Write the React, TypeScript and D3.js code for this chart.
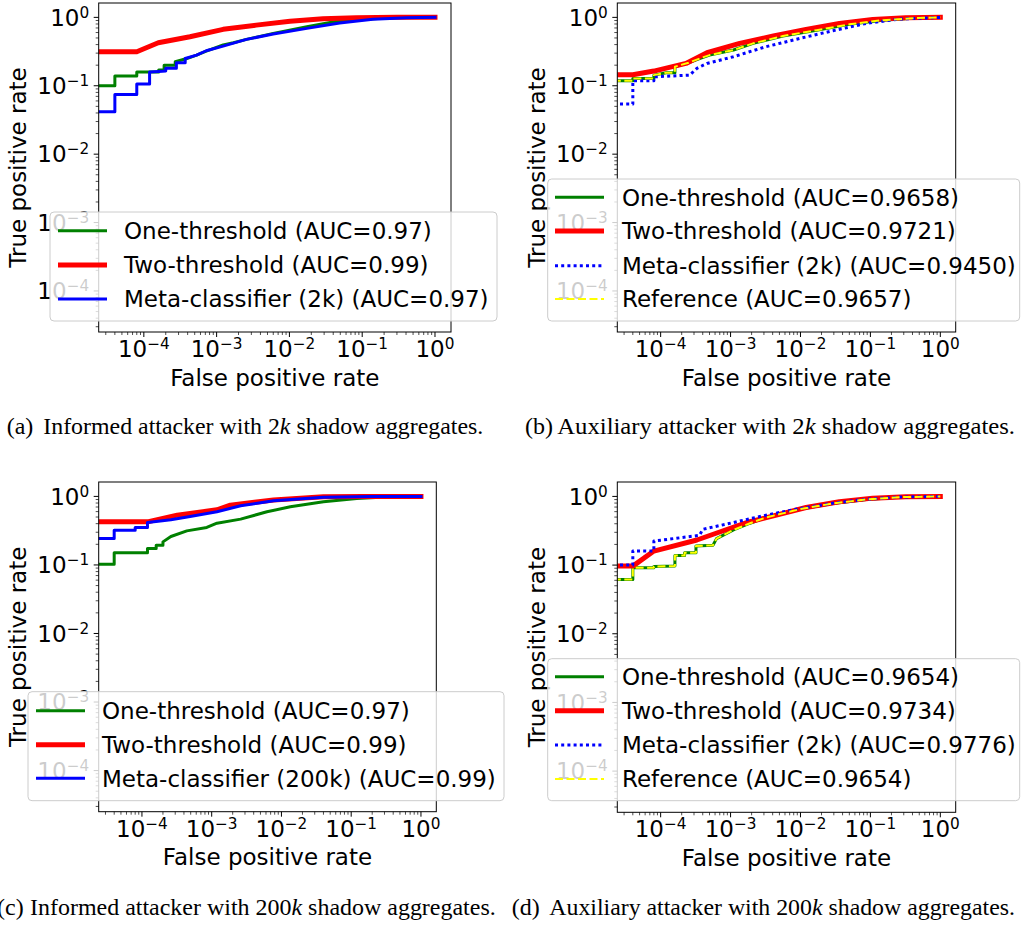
import React from 'react';
import * as d3 from 'd3';

// ---------- DATA ----------
const X_TICK_EXPONENTS = [-4, -3, -2, -1, 0];
const Y_TICK_EXPONENTS = [-4, -3, -2, -1, 0];
const X_LABEL = 'False positive rate';
const Y_LABEL = 'True positive rate';

const CAPTION_TAGS = ['(a)', '(b)', '(c)', '(d)'];
const CAPTION_PREFIX = ['Informed attacker with ', 'Auxiliary attacker with ', 'Informed attacker with ', 'Auxiliary attacker with '];
const CAPTION_NUM = ['2', '2', '200', '200'];
const CAPTION_SUFFIX = ' shadow aggregates.';

// Panel (a)
const A_LABELS = ['One-threshold (AUC=0.97)', 'Two-threshold (AUC=0.99)', 'Meta-classifier (2k) (AUC=0.97)'];
const A_ONE_FPR = [1e-6, 4e-5, 4e-5, 8e-5, 8e-5, 1.6e-4, 1.6e-4, 1.9e-4, 1.9e-4, 2.7e-4, 2.7e-4, 3.9e-4, 5.3e-4, 7.2e-4, 1.23e-3, 1.7e-3, 2.57e-3, 6e-3, 1.74e-2, 4.9e-2, 0.24, 1];
const A_ONE_TPR = [0.1, 0.1, 0.139, 0.139, 0.159, 0.159, 0.17, 0.17, 0.2, 0.2, 0.224, 0.25, 0.281, 0.32, 0.394, 0.425, 0.477, 0.583, 0.73, 0.89, 0.99, 1];
const A_TWO_FPR = [1e-6, 8e-5, 1.58e-4, 4.3e-4, 1.23e-3, 3.5e-3, 1.02e-2, 2.9e-2, 8.3e-2, 0.3, 1];
const A_TWO_TPR = [0.314, 0.314, 0.425, 0.52, 0.668, 0.77, 0.88, 0.955, 0.99, 1, 1];
const A_META_FPR = [1e-6, 4e-5, 4e-5, 8e-5, 8e-5, 1.2e-4, 1.2e-4, 1.6e-4, 2e-4, 2e-4, 2.8e-4, 2.8e-4, 3.7e-4, 3.7e-4, 5.3e-4, 7.2e-4, 1.23e-3, 2.57e-3, 6e-3, 1.74e-2, 4.9e-2, 0.14, 0.41, 1];
const A_META_TPR = [0.0417, 0.0417, 0.0748, 0.0748, 0.106, 0.106, 0.159, 0.162, 0.165, 0.18, 0.18, 0.217, 0.217, 0.25, 0.281, 0.325, 0.38, 0.477, 0.57, 0.69, 0.83, 0.94, 0.99, 1];

// Panel (b)
const B_LABELS = ['One-threshold (AUC=0.9658)', 'Two-threshold (AUC=0.9721)', 'Meta-classifier (2k) (AUC=0.9450)', 'Reference (AUC=0.9657)'];
const B_ONE_FPR = [1e-6, 4e-5, 4e-5, 8e-5, 8e-5, 1.2e-4, 1.6e-4, 1.6e-4, 2.5e-4, 3.6e-4, 5e-4, 1.1e-3, 2.1e-3, 5.6e-3, 1.7e-2, 5e-2, 0.15, 0.45, 1];
const B_ONE_TPR = [0.118, 0.118, 0.128, 0.128, 0.143, 0.155, 0.155, 0.19, 0.217, 0.25, 0.281, 0.333, 0.417, 0.533, 0.65, 0.79, 0.91, 0.98, 1];
const B_TWO_FPR = [1e-6, 4e-5, 8e-5, 2.3e-4, 4.6e-4, 1.35e-3, 4.1e-3, 1.2e-2, 3.6e-2, 0.108, 0.32, 1];
const B_TWO_TPR = [0.145, 0.145, 0.164, 0.212, 0.304, 0.417, 0.533, 0.668, 0.817, 0.934, 0.99, 1];
const B_META_FPR = [1e-6, 4e-5, 4e-5, 8e-5, 8e-5, 2.6e-4, 3.3e-4, 4.6e-4, 1.1e-3, 3.2e-3, 9.8e-3, 2.9e-2, 8.7e-2, 0.26, 0.78, 1];
const B_META_TPR = [0.054, 0.054, 0.118, 0.118, 0.135, 0.143, 0.18, 0.212, 0.266, 0.372, 0.493, 0.637, 0.817, 0.944, 0.99, 1];
const B_REF_FPR = [1e-6, 4e-5, 4e-5, 8e-5, 8e-5, 1.2e-4, 1.6e-4, 1.6e-4, 2.5e-4, 3.6e-4, 5e-4, 1.1e-3, 2.1e-3, 5.6e-3, 1.7e-2, 5e-2, 0.15, 0.45, 1];
const B_REF_TPR = [0.118, 0.118, 0.128, 0.128, 0.143, 0.155, 0.155, 0.19, 0.217, 0.25, 0.281, 0.333, 0.417, 0.533, 0.65, 0.79, 0.91, 0.98, 1];

// Panel (c)
const C_LABELS = ['One-threshold (AUC=0.97)', 'Two-threshold (AUC=0.99)', 'Meta-classifier (200k) (AUC=0.99)'];
const C_ONE_FPR = [1e-6, 4e-5, 4e-5, 1.2e-4, 1.2e-4, 1.6e-4, 1.6e-4, 2e-4, 2e-4, 2.6e-4, 4.4e-4, 8.5e-4, 1.19e-3, 2.6e-3, 6.2e-3, 1.34e-2, 4e-2, 0.12, 0.36, 1];
const C_ONE_TPR = [0.102, 0.102, 0.151, 0.151, 0.173, 0.173, 0.194, 0.194, 0.217, 0.26, 0.314, 0.352, 0.407, 0.466, 0.596, 0.705, 0.834, 0.935, 0.99, 1];
const C_TWO_FPR = [1e-6, 1.2e-4, 3.2e-4, 1.19e-3, 1.85e-3, 7.7e-3, 4e-2, 0.15, 1];
const C_TWO_TPR = [0.425, 0.425, 0.532, 0.637, 0.746, 0.883, 0.99, 1, 1];
const C_META_FPR = [1e-6, 4e-5, 4e-5, 8e-5, 8e-5, 1.2e-4, 1.2e-4, 2.6e-4, 4.9e-4, 1.19e-3, 2.6e-3, 7.7e-3, 4e-2, 0.2, 1];
const C_META_TPR = [0.243, 0.243, 0.321, 0.321, 0.352, 0.352, 0.417, 0.455, 0.51, 0.596, 0.73, 0.863, 0.97, 1, 1];

// Panel (d)
const D_LABELS = ['One-threshold (AUC=0.9654)', 'Two-threshold (AUC=0.9734)', 'Meta-classifier (2k) (AUC=0.9776)', 'Reference (AUC=0.9654)'];
const D_ONE_FPR = [1e-6, 4e-5, 4e-5, 8e-5, 8e-5, 1.6e-4, 1.6e-4, 2.2e-4, 2.2e-4, 3.2e-4, 3.2e-4, 5.6e-4, 6.3e-4, 1.1e-3, 1.9e-3, 3.2e-3, 9.8e-3, 2.9e-2, 8.7e-2, 0.26, 1];
const D_ONE_TPR = [0.0617, 0.0617, 0.0913, 0.0913, 0.095, 0.0966, 0.138, 0.138, 0.151, 0.151, 0.19, 0.195, 0.243, 0.325, 0.407, 0.493, 0.652, 0.79, 0.904, 0.976, 1];
const D_TWO_FPR = [1e-6, 4e-5, 8e-5, 3.3e-4, 1.7e-3, 4.1e-3, 1.2e-2, 3.6e-2, 0.108, 0.32, 1];
const D_TWO_TPR = [0.0966, 0.0966, 0.16, 0.232, 0.417, 0.52, 0.69, 0.834, 0.944, 0.99, 1];
const D_META_FPR = [1e-6, 4e-5, 4e-5, 8e-5, 8e-5, 3.6e-4, 4e-4, 1.1e-3, 3.2e-3, 9.8e-3, 2.9e-2, 8.7e-2, 0.26, 1];
const D_META_TPR = [0.1, 0.1, 0.16, 0.16, 0.224, 0.271, 0.332, 0.417, 0.533, 0.667, 0.798, 0.91, 0.98, 1];
const D_REF_FPR = [1e-6, 4e-5, 4e-5, 8e-5, 8e-5, 1.6e-4, 1.6e-4, 2.2e-4, 2.2e-4, 3.2e-4, 3.2e-4, 5.6e-4, 6.3e-4, 1.1e-3, 1.9e-3, 3.2e-3, 9.8e-3, 2.9e-2, 8.7e-2, 0.26, 1];
const D_REF_TPR = [0.0617, 0.0617, 0.0913, 0.0913, 0.095, 0.0966, 0.138, 0.138, 0.151, 0.151, 0.19, 0.195, 0.243, 0.325, 0.407, 0.493, 0.652, 0.79, 0.904, 0.976, 1];

// ---------- STYLE / LAYOUT ----------
const FONT = 'DejaVu Sans';
const FS = 23;
const SUP_FS = 15.3;
const CAP_FONT = 'Liberation Serif';
const CAP_FS = 24;
const X_DOMAIN: [number, number] = [Math.pow(10, -4.62), Math.pow(10, 0.22)];
const Y_DOMAIN: [number, number] = [Math.pow(10, -4.6), Math.pow(10, 0.21)];

type Style = { color: string; width: number; dash?: string; legendWidth: number };
const S_ONE: Style = { color: '#008000', width: 3, legendWidth: 3 };
const S_TWO: Style = { color: '#ff0000', width: 5, legendWidth: 5 };
const S_META: Style = { color: '#0000ff', width: 3, legendWidth: 3 };
const S_META_DOT: Style = { color: '#0000ff', width: 3, dash: '3,3.2', legendWidth: 3 };
const S_REF: Style = { color: '#ffff00', width: 2, dash: '8,3.5', legendWidth: 2 };

type Series = { fpr: number[]; tpr: number[]; style: Style; label: string };

type Panel = {
  id: string;
  idx: number;
  left: number; right: number; top: number; bottom: number;
  series: Series[];
  legend: { x: number; y: number; w: number; h: number; rows: number[]; lineX0: number; lineX1: number; textX: number };
  caption: { tagX: number; restX: number; restEnd: number; baseline: number };
};

const PANELS: Panel[] = [
  {
    id: 'a', idx: 0, left: 98.7, right: 451, top: 3, bottom: 332,
    series: [
      { fpr: A_ONE_FPR, tpr: A_ONE_TPR, style: S_ONE, label: A_LABELS[0] },
      { fpr: A_TWO_FPR, tpr: A_TWO_TPR, style: S_TWO, label: A_LABELS[1] },
      { fpr: A_META_FPR, tpr: A_META_TPR, style: S_META, label: A_LABELS[2] },
    ],
    legend: { x: 50, y: 212, w: 447, h: 109, rows: [230.7, 265, 299], lineX0: 58, lineX1: 107, textX: 124 },
    caption: { tagX: 6.7, restX: 43.3, restEnd: 483.3, baseline: 434.3 },
  },
  {
    id: 'b', idx: 1, left: 617.3, right: 955.7, top: 3, bottom: 332,
    series: [
      { fpr: B_ONE_FPR, tpr: B_ONE_TPR, style: S_ONE, label: B_LABELS[0] },
      { fpr: B_TWO_FPR, tpr: B_TWO_TPR, style: S_TWO, label: B_LABELS[1] },
      { fpr: B_META_FPR, tpr: B_META_TPR, style: S_META_DOT, label: B_LABELS[2] },
      { fpr: B_REF_FPR, tpr: B_REF_TPR, style: S_REF, label: B_LABELS[3] },
    ],
    legend: { x: 547.7, y: 179, w: 472, h: 142, rows: [197.3, 231, 265.7, 299], lineX0: 555, lineX1: 604, textX: 622 },
    caption: { tagX: 525, restX: 557.3, restEnd: 1015, baseline: 434.3 },
  },
  {
    id: 'c', idx: 2, left: 98.7, right: 436.3, top: 482, bottom: 811.7,
    series: [
      { fpr: C_ONE_FPR, tpr: C_ONE_TPR, style: S_ONE, label: C_LABELS[0] },
      { fpr: C_TWO_FPR, tpr: C_TWO_TPR, style: S_TWO, label: C_LABELS[1] },
      { fpr: C_META_FPR, tpr: C_META_TPR, style: S_META, label: C_LABELS[2] },
    ],
    legend: { x: 28, y: 691.7, w: 476, h: 109, rows: [710.7, 744.7, 778.3], lineX0: 36, lineX1: 85, textX: 102 },
    caption: { tagX: -3, restX: 30, restEnd: 495.7, baseline: 915 },
  },
  {
    id: 'd', idx: 3, left: 617.3, right: 955.7, top: 482, bottom: 812.3,
    series: [
      { fpr: D_ONE_FPR, tpr: D_ONE_TPR, style: S_ONE, label: D_LABELS[0] },
      { fpr: D_TWO_FPR, tpr: D_TWO_TPR, style: S_TWO, label: D_LABELS[1] },
      { fpr: D_META_FPR, tpr: D_META_TPR, style: S_META_DOT, label: D_LABELS[2] },
      { fpr: D_REF_FPR, tpr: D_REF_TPR, style: S_REF, label: D_LABELS[3] },
    ],
    legend: { x: 547.7, y: 658.7, w: 472, h: 142, rows: [676.7, 710.7, 745, 779], lineX0: 555, lineX1: 604, textX: 622 },
    caption: { tagX: 511.7, restX: 549.3, restEnd: 1015, baseline: 915 },
  },
];

function expText(e: number) {
  return e < 0 ? '\u2212' + String(-e) : String(e);
}

function minorValues(domain: [number, number]) {
  const out: number[] = [];
  for (let k = -6; k <= 1; k++) {
    for (let m = 2; m <= 9; m++) {
      const v = m * Math.pow(10, k);
      if (v >= domain[0] && v <= domain[1]) out.push(v);
    }
  }
  return out;
}

function PanelView({ p }: { p: Panel }) {
  const x = d3.scaleLog().domain(X_DOMAIN).range([p.left, p.right]);
  const y = d3.scaleLog().domain(Y_DOMAIN).range([p.bottom, p.top]);
  const line = d3.line<[number, number]>().x((d) => x(d[0])).y((d) => y(d[1]));
  const clipId = 'clip-' + p.id;
  const xMinor = minorValues(X_DOMAIN);
  const yMinor = minorValues(Y_DOMAIN);
  const cx = (p.left + p.right) / 2;
  const cy = (p.top + p.bottom) / 2;
  const L = p.legend;
  return (
    <g>
      <defs>
        <clipPath id={clipId}>
          <rect x={p.left} y={p.top} width={p.right - p.left} height={p.bottom - p.top} />
        </clipPath>
      </defs>
      <g clipPath={`url(#${clipId})`}>
        {p.series.map((s, i) => (
          <path
            key={i}
            d={line(s.fpr.map((f, j) => [f, s.tpr[j]] as [number, number])) || ''}
            fill="none"
            stroke={s.style.color}
            strokeWidth={s.style.width}
            strokeDasharray={s.style.dash}
            strokeLinejoin="round"
            strokeLinecap={s.style.dash ? 'butt' : 'square'}
          />
        ))}
      </g>
      <rect x={p.left} y={p.top} width={p.right - p.left} height={p.bottom - p.top} fill="none" stroke="#000" strokeWidth={1} />
      {X_TICK_EXPONENTS.map((e) => {
        const px = x(Math.pow(10, e));
        return (
          <g key={'xt' + e}>
            <line x1={px} x2={px} y1={p.bottom} y2={p.bottom + 5} stroke="#000" strokeWidth={1} />
            <text x={px} y={p.bottom + 25} textAnchor="middle" fontFamily={FONT} fontSize={FS}>
              10<tspan dy={-8} fontSize={SUP_FS}>{expText(e)}</tspan>
            </text>
          </g>
        );
      })}
      {xMinor.map((v, i) => (
        <line key={'xm' + i} x1={x(v)} x2={x(v)} y1={p.bottom} y2={p.bottom + 3} stroke="#000" strokeWidth={0.7} />
      ))}
      {Y_TICK_EXPONENTS.map((e) => {
        const py = y(Math.pow(10, e));
        return (
          <g key={'yt' + e}>
            <line x1={p.left - 5} x2={p.left} y1={py} y2={py} stroke="#000" strokeWidth={1} />
            <text x={p.left - 9.5} y={py + 8.3} textAnchor="end" fontFamily={FONT} fontSize={FS}>
              10<tspan dy={-8} fontSize={SUP_FS}>{expText(e)}</tspan>
            </text>
          </g>
        );
      })}
      {yMinor.map((v, i) => (
        <line key={'ym' + i} x1={p.left - 3} x2={p.left} y1={y(v)} y2={y(v)} stroke="#000" strokeWidth={0.7} />
      ))}
      <text x={cx} y={p.bottom + 53.5} textAnchor="middle" fontFamily={FONT} fontSize={FS}>{X_LABEL}</text>
      <text transform={`translate(${p.left - 72.7},${cy}) rotate(-90)`} textAnchor="middle" fontFamily={FONT} fontSize={FS}>{Y_LABEL}</text>
      <rect x={L.x} y={L.y} width={L.w} height={L.h} rx={4} ry={4} fill="#ffffff" fillOpacity={0.8} stroke="#cccccc" strokeWidth={1} />
      {p.series.map((s, i) => (
        <g key={'lg' + i}>
          <line
            x1={L.lineX0}
            x2={L.lineX1}
            y1={L.rows[i]}
            y2={L.rows[i]}
            stroke={s.style.color}
            strokeWidth={s.style.legendWidth}
            strokeDasharray={s.style.dash}
          />
          <text x={L.textX} y={L.rows[i] + 8.3} fontFamily={FONT} fontSize={FS}>{s.label}</text>
        </g>
      ))}
      <text x={p.caption.tagX} y={p.caption.baseline} fontFamily={CAP_FONT} fontSize={CAP_FS}>{CAPTION_TAGS[p.idx]}</text>
      <text
        x={p.caption.restX}
        y={p.caption.baseline}
        fontFamily={CAP_FONT}
        fontSize={CAP_FS}
        textLength={p.caption.restEnd - p.caption.restX}
        lengthAdjust="spacingAndGlyphs"
      >
        {CAPTION_PREFIX[p.idx]}{CAPTION_NUM[p.idx]}
        <tspan fontStyle="italic">k</tspan>
        {CAPTION_SUFFIX}
      </text>
    </g>
  );
}

export default function App() {
  return (
    <svg
      width={1021}
      height={926}
      viewBox="0 0 1021 926"
      style={{ position: 'absolute', left: 0, top: 0, background: '#fff' }}
    >
      <rect x={0} y={0} width={1021} height={926} fill="#fff" />
      {PANELS.map((p) => (
        <PanelView key={p.id} p={p} />
      ))}
    </svg>
  );
}
